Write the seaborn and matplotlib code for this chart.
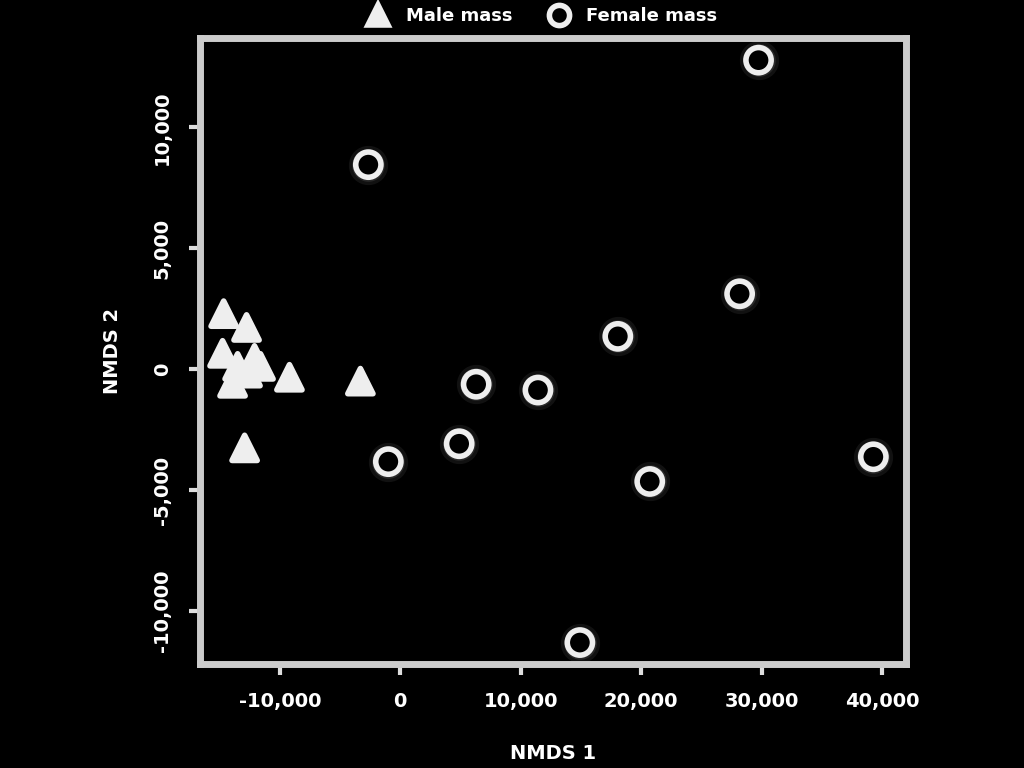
import numpy as np
import pandas as pd
import matplotlib
matplotlib.use("Agg")
import matplotlib.pyplot as plt
import seaborn as sns
from matplotlib.ticker import FuncFormatter

# values
male_x = [-14660, -12760, -9200, -3310, -12920, -14750, -13500, -12100, -13920, -12680, -11600]
male_y = [2300, 1730, -330, -490, -3250, 660, 120, 450, -580, -160, 120]
female_x = [29740, -2650, 28170, 18060, 6300, 11430, 4890, -990, 20710, 39270, 14910]
female_y = [12780, 8460, 3120, 1360, -620, -860, -3080, -3820, -4640, -3620, -11300]
groups = ["Male mass", "Female mass"]

df = pd.DataFrame({
    "x": male_x + female_x,
    "y": male_y + female_y,
    "group": [groups[0]] * len(male_x) + [groups[1]] * len(female_x),
})

sns.set_theme(style="ticks")
plt.rcParams["font.family"] = ["DejaVu Sans"]
plt.rcParams["text.color"] = "white"

fig = plt.figure(figsize=(10.24, 7.68), dpi=100, facecolor="black")
ax = fig.add_axes([0.195, 0.135, 0.69, 0.815], facecolor="black")

# soft glow underneath
sub = df[df["group"] == groups[1]]
ax.scatter(sub["x"], sub["y"], marker="o", s=800, color="white", alpha=0.07, linewidths=0, zorder=1)
ax.scatter(sub["x"], sub["y"], marker="o", s=550, color="white", alpha=0.10, linewidths=0, zorder=1)

sns.scatterplot(data=df, x="x", y="y", style="group", markers={groups[0]: "^", groups[1]: "o"},
                hue="group", palette={groups[0]: "#eeeeee", groups[1]: "black"},
                edgecolor="#eeeeee", linewidth=4, s=330, ax=ax, zorder=3)
ax.scatter(sub["x"], sub["y"], marker="o", s=12, color="black", zorder=4)

ax.set_xlim(-16650, 42000)
ax.set_ylim(-12200, 13680)
ax.set_xticks([-10000, 0, 10000, 20000, 30000, 40000])
ax.set_yticks([-10000, -5000, 0, 5000, 10000])
fmt = FuncFormatter(lambda v, p: f"{int(v):,}")
ax.xaxis.set_major_formatter(fmt)
ax.yaxis.set_major_formatter(fmt)

for s in ax.spines.values():
    s.set_color("#cccccc")
    s.set_linewidth(5)
ax.tick_params(colors="#dddddd", labelcolor="white", width=3, length=8, labelsize=14, pad=12)
plt.setp(ax.get_yticklabels(), rotation=90, va="center")
for lab in ax.get_xticklabels() + ax.get_yticklabels():
    lab.set_fontweight("bold")

ax.set_xlabel("NMDS 1", color="white", fontsize=14, fontweight="bold", labelpad=24)
ax.set_ylabel("NMDS 2", color="white", fontsize=14, fontweight="bold", labelpad=22)

leg = ax.legend(loc="lower center", bbox_to_anchor=(0.48, 0.995), ncol=2, frameon=False,
                fontsize=13, handletextpad=0.5, columnspacing=1.6, markerscale=0.8)
for t in leg.get_texts():
    t.set_color("white")
    t.set_fontweight("bold")

fig.savefig("out.png", dpi=100, facecolor="black")
